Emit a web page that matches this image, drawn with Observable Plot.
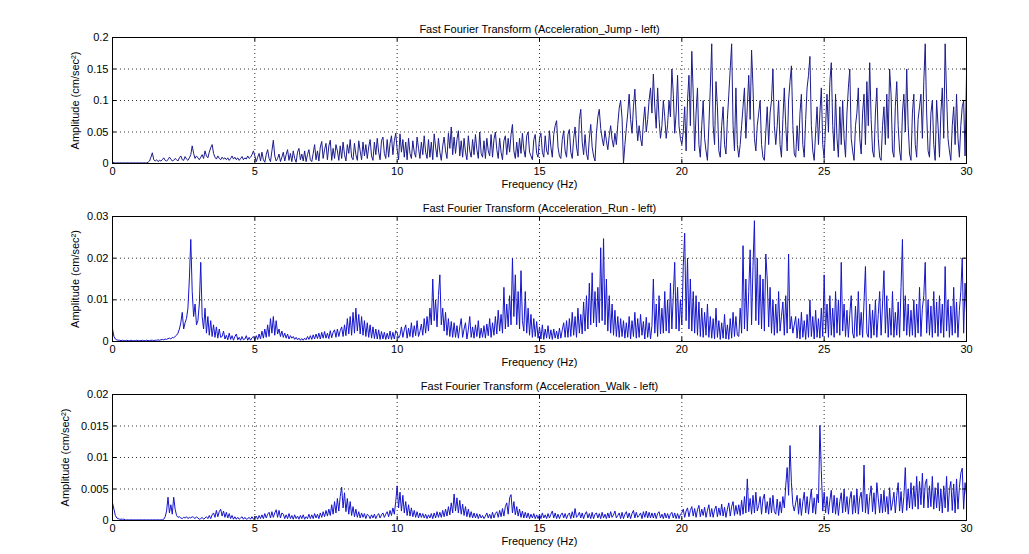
<!DOCTYPE html>
<html><head><meta charset="utf-8">
<script src="https://cdn.jsdelivr.net/npm/d3@7"></script>
<script src="https://cdn.jsdelivr.net/npm/@observablehq/plot@0.6"></script>
<style>
html,body{margin:0;padding:0;background:#fff;}
#chart{position:relative;width:1029px;height:554px;overflow:hidden;font-family:"Liberation Sans",Arial,Helvetica,sans-serif;}
</style></head><body><div id="chart"></div>
<script>
// Frequency bins (Hz): one value every 0.05 Hz from 0 to 30
const freqStep = 0.05;
const xTicks = [0, 5, 10, 15, 20, 25, 30];
const xLabel = "Frequency (Hz)";
const yLabel = "Amplitude (cm/sec²)";
const titles = [
  "Fast Fourier Transform (Acceleration_Jump - left)",
  "Fast Fourier Transform (Acceleration_Run - left)",
  "Fast Fourier Transform (Acceleration_Walk - left)"
];
const jumpYTicks = [0, 0.05, 0.1, 0.15, 0.2];
const runYTicks = [0, 0.01, 0.02, 0.03];
const walkYTicks = [0, 0.005, 0.01, 0.015, 0.02];

// Jump amplitude, in units of 0.001 cm/sec² (one row per Hz)
const jumpAmp = [
3,1,1,1,1,1,1,1,1,1,1,1,1,1,1,1,1,1,1,1,
1,1,1,1,1,2,4,10,17,6,4,6,3,5,4,6,9,5,4,6,
10,7,4,5,8,6,4,9,12,6,5,11,7,5,9,14,28,16,8,12,
9,6,10,14,8,20,12,9,18,25,30,16,10,7,12,8,6,10,7,9,
6,9,5,8,12,7,10,6,9,5,8,11,6,9,7,12,8,10,14,20,
12,3,10,16,4,18,6,2,14,22,8,3,20,37,12,4,8,15,3,10,
18,4,14,22,5,16,3,20,8,2,18,24,6,15,4,20,3,14,22,6,
3,16,30,6,20,4,26,35,8,22,32,6,28,37,5,24,8,30,20,5,
28,8,34,14,4,30,16,38,10,6,32,14,5,36,20,6,34,12,30,8,
26,38,12,5,34,14,40,18,6,36,42,16,8,38,10,32,44,14,36,48,
22,6,47,18,38,10,34,6,40,16,8,36,18,10,42,24,8,34,14,44,
18,8,38,10,34,6,47,26,10,40,18,5,28,42,20,8,48,24,58,14,
42,16,38,52,12,36,10,40,18,6,44,20,10,38,14,46,22,8,50,16,
10,36,8,40,20,12,46,10,38,50,22,8,40,18,6,36,44,14,40,18,
46,62,20,8,34,10,40,16,48,22,10,44,50,18,12,6,38,46,16,10,
40,48,18,10,44,20,14,52,26,10,46,60,68,26,12,8,38,52,20,10,
46,54,18,8,40,58,26,12,70,86,34,14,46,16,6,40,62,26,12,4,
48,74,86,56,40,28,52,36,22,44,60,38,26,48,30,62,88,100,72,0,
30,56,80,110,70,48,90,118,70,36,60,40,28,66,90,50,70,100,120,80,
142,90,56,120,70,40,60,100,74,40,62,100,74,150,110,48,80,140,60,40,
30,50,90,20,100,140,60,178,110,20,80,120,30,10,60,100,40,20,5,60,
120,190,60,30,130,90,20,10,60,90,30,15,70,110,150,190,60,20,120,30,
10,30,60,90,120,40,90,140,70,180,120,40,20,60,80,100,30,10,5,50,
90,30,80,100,150,60,30,60,100,30,10,70,120,60,20,100,130,155,60,15,
10,60,20,80,110,30,10,70,120,140,170,60,20,5,50,90,30,80,120,30,
8,60,110,50,130,160,60,20,110,40,10,90,30,100,40,10,80,120,150,40,
20,5,60,80,120,40,15,80,110,30,130,60,160,70,20,10,80,120,40,10,
5,60,90,30,110,40,150,110,20,10,90,130,60,20,5,80,110,50,150,60,
15,5,80,110,30,10,70,90,110,40,130,190,80,20,10,80,100,30,5,100,
60,10,80,120,40,190,110,40,20,5,60,90,30,110,40,10,60,90,100,12,
140
];

// Run amplitude, in units of 0.0001 cm/sec²
const runAmp = [
30,12,6,4,3,3,2,3,2,2,3,2,2,3,2,2,2,3,2,2,
2,3,2,2,3,2,2,3,3,2,3,3,4,3,4,5,4,6,5,7,
8,6,10,9,12,15,20,30,45,70,30,45,55,80,150,245,120,60,90,40,
50,90,190,60,30,80,20,60,15,50,12,40,10,35,8,30,10,12,25,6,
15,4,20,5,14,3,12,18,4,10,3,12,4,6,14,3,10,3,9,12,
4,14,5,18,6,25,8,30,10,40,12,55,20,60,15,50,18,30,12,25,
10,20,8,18,6,14,8,12,5,10,4,8,3,7,3,8,4,12,5,14,
5,16,6,18,7,20,6,22,8,24,8,20,7,26,9,22,28,10,30,12,
26,35,12,40,14,55,18,60,15,70,20,80,25,65,18,60,15,50,12,45,
10,40,8,35,7,30,6,28,5,24,6,22,5,20,6,25,5,22,6,26,
20,8,15,35,10,28,40,8,32,12,45,10,38,14,50,12,24,42,15,55,
20,60,25,80,40,150,50,100,35,110,160,40,80,25,70,15,55,12,48,10,
45,10,38,8,35,55,10,30,45,6,28,60,10,35,8,40,12,50,8,32,
10,38,8,42,14,55,10,45,15,60,18,75,25,65,20,130,30,90,35,110,
40,200,60,160,40,120,30,170,50,25,120,20,80,15,65,10,55,12,48,8,
35,6,40,5,30,8,38,6,28,5,30,8,25,6,32,8,28,45,10,50,
10,55,12,70,15,60,10,80,20,65,18,95,25,110,30,140,40,165,45,120,
35,130,45,225,50,247,40,150,25,110,20,90,15,75,12,60,10,55,12,50,
8,45,10,60,6,50,12,70,8,55,10,65,15,48,6,58,10,45,6,38,
150,20,90,12,110,18,80,20,120,25,100,20,140,30,110,190,30,130,25,100,
40,180,260,50,200,30,150,25,120,20,110,15,95,12,80,10,70,15,90,10,
60,8,55,6,80,10,50,5,45,8,65,6,40,5,55,8,70,12,60,15,
12,80,20,230,30,150,25,120,220,40,180,290,50,200,40,160,30,150,25,210,
150,35,130,20,100,15,90,20,120,25,60,95,15,110,20,210,30,60,20,40,
60,8,55,6,70,10,50,5,65,10,100,12,60,6,75,10,55,8,80,12,
160,20,90,10,110,15,80,10,120,20,100,15,190,25,90,12,75,10,65,110,
20,8,85,12,120,15,70,10,95,180,20,10,90,8,75,15,100,10,65,120,
15,90,170,20,110,10,80,15,120,10,70,15,95,10,130,245,25,110,15,90,
12,75,15,100,10,90,20,130,12,80,110,190,20,100,15,85,10,120,20,95,
12,110,20,90,10,180,25,100,10,85,15,130,20,95,10,75,120,200,20,140,
70
];

// Walk amplitude, in units of 0.0001 cm/sec²
const walkAmp = [
28,18,8,4,3,2,2,2,2,1,1,1,1,1,1,1,1,1,1,1,
1,1,1,1,1,1,1,1,1,1,1,1,1,1,1,1,2,6,15,37,
12,25,10,37,18,8,5,6,4,3,5,4,6,3,5,4,6,5,3,6,
4,2,3,5,2,4,6,3,8,3,9,12,5,16,6,14,18,7,15,5,
13,4,11,3,8,2,6,2,5,2,4,6,2,5,2,3,5,2,6,2,
4,7,2,8,3,9,3,11,4,10,13,4,14,5,12,17,5,16,4,12,
10,3,9,3,11,3,8,2,9,3,7,2,8,3,9,2,6,3,10,3,
9,3,11,4,10,3,12,5,14,6,16,7,18,8,25,10,30,12,35,15,
38,53,20,44,14,35,10,30,8,22,6,18,5,14,4,12,5,11,3,10,
8,3,9,4,10,3,8,11,4,9,12,5,10,14,6,16,8,20,10,30,
55,20,45,15,40,12,30,8,25,7,20,6,16,5,14,4,12,5,11,4,
10,3,9,4,11,3,12,4,14,5,13,5,16,6,18,7,22,9,28,12,
42,15,36,12,32,10,26,8,22,6,18,5,14,4,12,4,11,3,10,4,
8,3,7,12,4,10,3,13,4,11,14,5,16,6,19,7,22,28,10,36,
41,12,30,9,22,7,18,5,15,4,13,4,12,3,10,4,11,3,9,3,
10,3,12,4,9,3,11,4,10,15,4,12,3,10,3,9,12,4,11,3,
9,12,3,14,4,19,5,8,13,4,12,3,10,14,4,11,3,13,3,10,
12,4,11,3,13,4,10,3,12,4,14,5,9,15,4,8,12,3,13,3,
10,14,4,12,3,11,16,4,13,5,8,12,3,14,5,15,4,13,4,12,
4,12,3,11,14,4,10,3,12,4,11,3,10,13,4,12,3,11,3,10,
12,18,5,15,20,6,16,22,7,19,5,17,24,6,18,8,21,5,16,25,
6,19,5,17,23,6,20,8,26,7,21,5,18,28,7,22,30,8,24,10,
25,8,32,10,38,12,66,14,35,10,40,12,45,15,24,38,10,34,42,12,
30,10,36,12,40,14,10,34,8,30,12,38,20,55,84,40,119,60,25,15,
28,40,10,35,8,30,45,12,38,10,32,50,12,36,10,42,28,151,79,15,
45,12,38,10,32,48,12,40,10,36,8,30,44,12,50,14,38,10,34,46,
10,40,12,50,10,36,45,14,88,12,42,10,38,55,14,44,10,60,35,12,
42,12,48,14,38,10,52,16,28,45,12,40,60,15,46,12,38,84,16,50,
20,60,18,55,22,70,18,62,25,75,20,58,66,20,55,22,70,18,52,20,
60,15,50,12,55,20,70,14,48,62,16,58,12,66,18,52,75,83,18,60,
40
];

const chart = document.getElementById("chart");
const FONT = '"Liberation Sans", Arial, Helvetica, sans-serif';

function panel({values, unit, yTicks, title, top, frameH, yLabelDx, color}) {
  const W = 1029, ml = 112, mr = 63, mt = 20, mb = 32;
  const H = mt + frameH + mb;
  const frameW = W - ml - mr;
  const data = values.map((v, i) => ({f: i * freqStep, a: v * unit}));
  const yMax = yTicks[yTicks.length - 1];
  const svg = Plot.plot({
    width: W, height: H,
    marginTop: mt, marginBottom: mb, marginLeft: ml, marginRight: mr,
    style: {background: "transparent", fontFamily: FONT, fontSize: "11px", color: "#000", overflow: "visible"},
    x: {domain: [0, 30]},
    y: {domain: [0, yMax]},
    marks: [
      Plot.ruleX(xTicks.slice(1, -1), {x: d => d, stroke: "#000", strokeDasharray: "1,3", strokeOpacity: 0.8}),
      Plot.ruleY(yTicks.slice(1, -1), {y: d => d, stroke: "#000", strokeDasharray: "1,3", strokeOpacity: 0.8}),
      Plot.lineY(data, {x: "f", y: "a", stroke: color, strokeWidth: 1, clip: true}),
      Plot.tickX(xTicks, {x: d => d, insetTop: frameH - 4, stroke: "#000"}),
      Plot.tickX(xTicks, {x: d => d, insetBottom: frameH - 4, stroke: "#000"}),
      Plot.tickY(yTicks, {y: d => d, insetRight: frameW - 4, stroke: "#000"}),
      Plot.tickY(yTicks, {y: d => d, insetLeft: frameW - 4, stroke: "#000"}),
      Plot.frame({stroke: "#000"}),
      Plot.axisX({ticks: xTicks, tickSize: 0, tickPadding: 4, label: null, tickFormat: d => String(d)}),
      Plot.axisY({ticks: yTicks, tickSize: 0, tickPadding: 4, label: null, tickFormat: d => String(d)}),
      Plot.text([title], {frameAnchor: "top", dy: -12, fontSize: 11, fill: "#000"}),
      Plot.text([xLabel], {frameAnchor: "bottom", dy: 24, fontSize: 11, fill: "#000"}),
      Plot.text([yLabel], {frameAnchor: "left", dx: yLabelDx, rotate: -90, textAnchor: "middle", lineAnchor: "middle", fontSize: 11, fill: "#000"})
    ]
  });
  svg.style.position = "absolute";
  svg.style.left = "0px";
  svg.style.top = top + "px";
  chart.appendChild(svg);
}

panel({values: jumpAmp, unit: 0.001, yTicks: jumpYTicks, title: titles[0], top: 17, frameH: 126, yLabelDx: -37, color: "#1c1c8c"});
panel({values: runAmp, unit: 0.0001, yTicks: runYTicks, title: titles[1], top: 196, frameH: 125, yLabelDx: -37, color: "#1515cc"});
panel({values: walkAmp, unit: 0.0001, yTicks: walkYTicks, title: titles[2], top: 374, frameH: 126, yLabelDx: -47, color: "#1515cc"});
</script></body></html>
